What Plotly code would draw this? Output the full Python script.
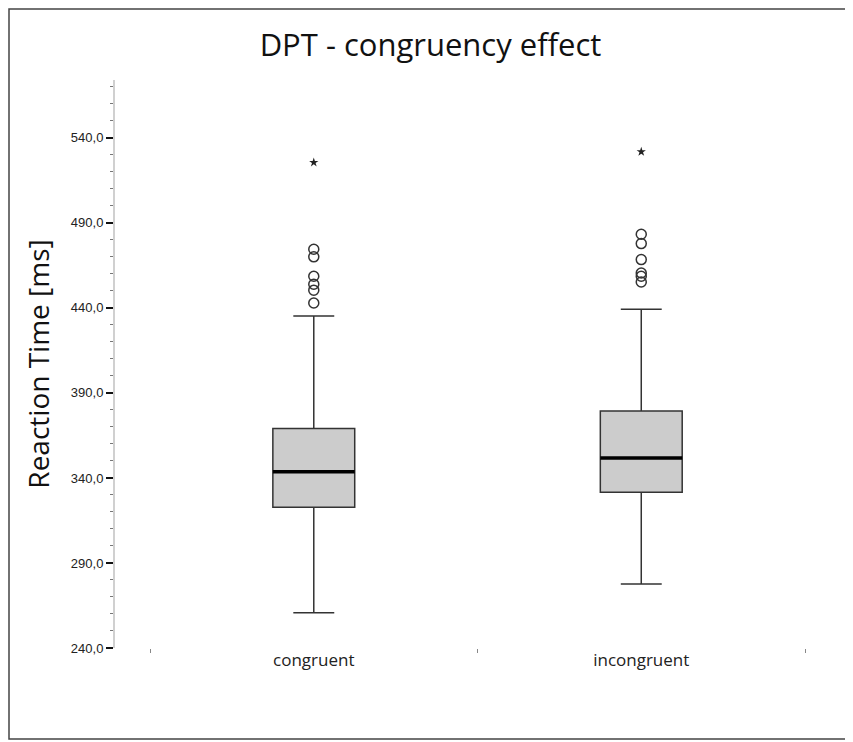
import plotly.graph_objects as go

categories = ["congruent", "incongruent"]
q1 = [322.8, 331.6]
median = [343.7, 351.7]
q3 = [369.0, 379.3]
lower_whisker = [260.7, 277.7]
upper_whisker = [435.2, 439.2]

outliers_congruent = [474.5, 470.0, 458.6, 453.9, 450.4, 442.9]
outliers_incongruent = [483.3, 477.8, 468.4, 460.5, 458.6, 455.2]
extremes_congruent = [525.5]
extremes_incongruent = [531.8]

y_ticks = [240, 290, 340, 390, 440, 490, 540]

fig = go.Figure()

fig.add_trace(go.Box(
    x=categories, q1=q1, median=median, q3=q3,
    lowerfence=lower_whisker, upperfence=upper_whisker,
    boxpoints=False, width=0.25, whiskerwidth=0.5,
    fillcolor="#cccccc", line=dict(color="#333333", width=1.5),
    showlegend=False, hoverinfo="skip",
))
fig.add_trace(go.Box(
    x=categories, q1=median, median=median, q3=median,
    lowerfence=median, upperfence=median,
    boxpoints=False, width=0.25, whiskerwidth=0,
    fillcolor="rgba(0,0,0,0)", line=dict(color="#000000", width=3.5),
    showlegend=False, hoverinfo="skip",
))

for cat, vals in zip(categories, [outliers_congruent, outliers_incongruent]):
    fig.add_trace(go.Scatter(
        x=[cat] * len(vals), y=vals, mode="markers",
        marker=dict(symbol="circle-open", size=10, color="#333333",
                    line=dict(width=1.5, color="#333333")),
        showlegend=False, hoverinfo="skip",
    ))
for cat, vals in zip(categories, [extremes_congruent, extremes_incongruent]):
    fig.add_trace(go.Scatter(
        x=[cat] * len(vals), y=vals, mode="markers",
        marker=dict(symbol="star", size=7, color="#222222", line=dict(width=0)),
        showlegend=False, hoverinfo="skip",
    ))

# page has an 8px body margin; compensate so the plot lands where the reference has it
OFF = 8
W, H = 853 - OFF, 742 - OFF
L, R, T, B = 115 - OFF, 48, 80 - OFF, 94
pw, ph = W - L - R, H - T - B

fig.update_layout(
    width=W, height=H,
    margin=dict(l=L, r=R, t=T, b=B, pad=0),
    paper_bgcolor="white", plot_bgcolor="white",
    boxmode="overlay",
    separators=",.",
    title=dict(text="DPT - congruency effect", x=0.5, xanchor="center",
               y=1 - (45 - OFF) / H, yanchor="middle",
               font=dict(family="Open Sans", size=31, color="#111111")),
    font=dict(family="Open Sans", color="#222222"),
    shapes=[dict(type="rect", xref="paper", yref="paper",
                 x0=(1 - L) / pw, x1=(850 - OFF - L) / pw,
                 y0=(H - B - (739 - OFF)) / ph, y1=(H - B - 1) / ph,
                 line=dict(color="#444444", width=1.5), fillcolor="rgba(0,0,0,0)",
                 layer="below")],
)

fig.update_xaxes(
    type="category", range=[-0.607, 1.5],
    showline=False, showgrid=False, zeroline=False,
    tickson="boundaries", ticks="outside", ticklen=4, tickwidth=1, tickcolor="#888888",
    tickfont=dict(family="Open Sans", size=17, color="#222222"),
    ticklabelstandoff=0,
)
fig.update_yaxes(
    range=[240, 574],
    showline=True, linecolor="#d0d0d0", linewidth=2,
    showgrid=False, zeroline=False,
    tickvals=y_ticks, tickformat=".1f",
    ticks="outside", ticklen=7, tickwidth=1.5, tickcolor="#111111",
    tickfont=dict(family="Liberation Sans", size=13, color="#222222"),
    minor=dict(dtick=10, tick0=240, ticks="outside", ticklen=3, tickwidth=1, tickcolor="#777777"),
    title=dict(text="Reaction Time [ms]", standoff=13,
               font=dict(family="Open Sans", size=28, color="#111111")),
)

fig.write_html("out.html")
